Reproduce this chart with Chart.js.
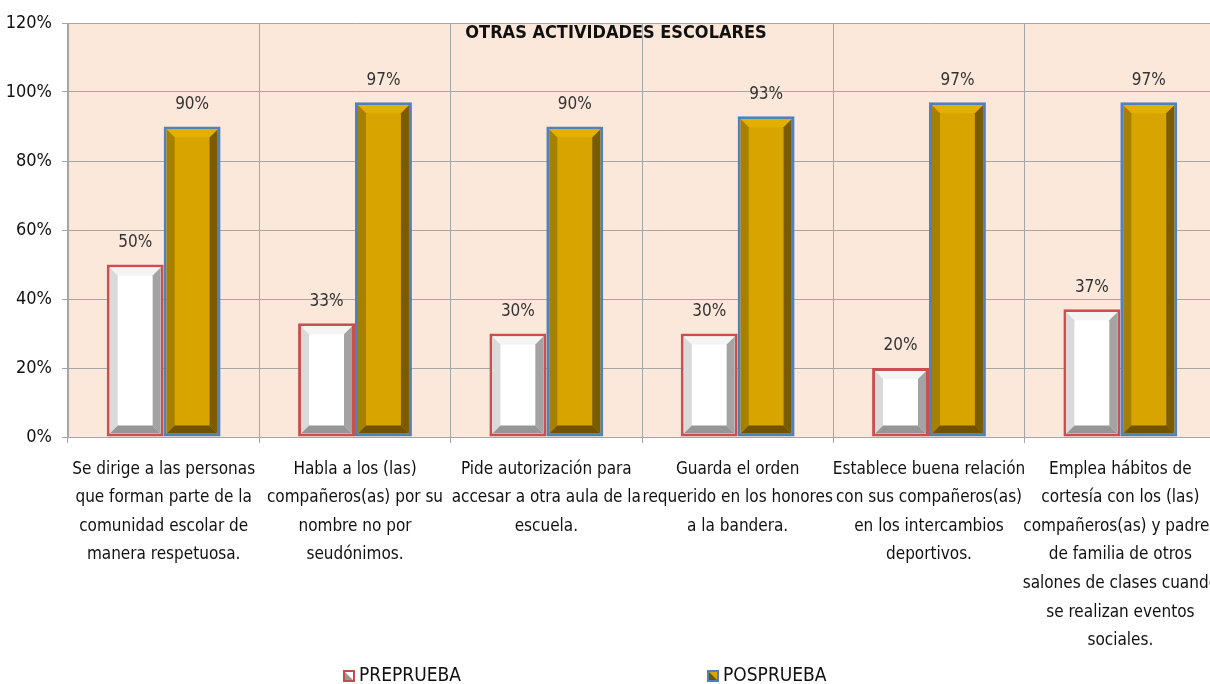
<!DOCTYPE html>
<html>
<head>
<meta charset="utf-8">
<script src="https://cdn.jsdelivr.net/npm/chart.js@4"></script>
<style>
  html, body { margin: 0; padding: 0; background: #fff; }
  #wrap { width: 1210px; height: 684px; overflow: hidden; }
</style>
</head>
<body>
<div id="wrap"><canvas id="myChart" width="1216" height="684"></canvas></div>
<script>
// 1. CHART DATA
const categories = [
    ["Se dirige a las personas", "que forman parte de la", "comunidad escolar de", "manera respetuosa."],
    ["Habla a los (las)", "compañeros(as) por su", "nombre no por", "seudónimos."],
    ["Pide autorización para", "accesar a otra aula de la", "escuela."],
    ["Guarda el orden", "requerido en los honores", "a la bandera."],
    ["Establece buena relación", "con sus compañeros(as)", "en los intercambios", "deportivos."],
    ["Emplea hábitos de", "cortesía con los (las)", "compañeros(as) y padres", "de familia de otros", "salones de clases cuando", "se realizan eventos", "sociales."]
];
const prePrueba = [50, 33, 30, 30, 20, 37];
const posPrueba = [90, 97, 90, 93, 97, 97];
const seriesNames = ["PREPRUEBA", "POSPRUEBA"];
const chartTitle = "OTRAS ACTIVIDADES ESCOLARES";

const FONT = "'Liberation Sans Narrow', 'DejaVu Sans Condensed', sans-serif";

// 3D bevel colours per dataset
const bevels = [
    { top: '#f4f4f4', left: '#dadada', right: '#a3a3a3', bottom: '#969696', border: '#c0504d' },
    { top: '#e3b000', left: '#a88000', right: '#7a5b00', bottom: '#6f5300', border: '#4f81bd' }
];

// 2. PLUGINS
// Peach plot background
const plotBackground = {
    id: 'plotBackground',
    beforeDraw(chart) {
        const { ctx, chartArea: a } = chart;
        ctx.save();
        ctx.fillStyle = '#fce8da';
        ctx.fillRect(a.left, a.top, a.right - a.left, a.bottom - a.top);
        ctx.restore();
    }
};

// Bevel faces over each bar, then value labels
const bars3d = {
    id: 'bars3d',
    afterDatasetsDraw(chart) {
        const ctx = chart.ctx;
        chart.data.datasets.forEach((ds, di) => {
            const c = bevels[di];
            chart.getDatasetMeta(di).data.forEach((bar, i) => {
                const bw = 3, d = 8;
                const l = bar.x - bar.width / 2 + bw;
                const r = bar.x + bar.width / 2 - bw;
                const t = bar.y + bw;
                const b = bar.base - bw;
                const face = (pts, col) => {
                    ctx.beginPath();
                    ctx.moveTo(pts[0][0], pts[0][1]);
                    pts.slice(1).forEach(p => ctx.lineTo(p[0], p[1]));
                    ctx.closePath();
                    ctx.fillStyle = col;
                    ctx.fill();
                };
                ctx.save();
                face([[l, t], [r, t], [r - d, t + d], [l + d, t + d]], c.top);
                face([[l, t], [l + d, t + d], [l + d, b - d], [l, b]], c.left);
                face([[r, t], [r - d, t + d], [r - d, b - d], [r, b]], c.right);
                face([[l, b], [l + d, b - d], [r - d, b - d], [r, b]], c.bottom);

                // value label
                ctx.fillStyle = '#333';
                ctx.font = '17px ' + FONT;
                ctx.textAlign = 'center';
                ctx.textBaseline = 'middle';
                ctx.fillText(ds.data[i] + '%', bar.x, bar.y - 22);
                ctx.restore();
            });
        });
    }
};

// Title inside the plot and the bottom legend
const titleLegend = {
    id: 'titleLegend',
    afterDraw(chart) {
        const { ctx, chartArea: a } = chart;
        ctx.save();
        ctx.fillStyle = '#111';
        ctx.font = 'bold 18px ' + FONT;
        ctx.textAlign = 'center';
        ctx.textBaseline = 'middle';
        ctx.fillText(chartTitle, a.left + 548, a.top + 10);

        // legend entries
        const xs = [343, 707];
        const y = 676;
        ctx.font = '19px ' + FONT;
        ctx.textAlign = 'left';
        chart.data.datasets.forEach((ds, di) => {
            const c = bevels[di];
            const x = xs[di], s = 12;
            ctx.fillStyle = c.border;
            ctx.fillRect(x, y - s / 2, s, s);
            ctx.fillStyle = di === 0 ? '#ffffff' : '#d8a400';
            ctx.fillRect(x + 2, y - s / 2 + 2, s - 4, s - 4);
            ctx.fillStyle = di === 0 ? '#999999' : '#6f5300';
            ctx.beginPath();
            ctx.moveTo(x + 2, y - s / 2 + 2);
            ctx.lineTo(x + s - 2, y + s / 2 - 2);
            ctx.lineTo(x + 2, y + s / 2 - 2);
            ctx.closePath();
            ctx.fill();
            ctx.fillStyle = '#111';
            ctx.fillText(ds.label, x + s + 4, y);
        });
        ctx.restore();
    }
};

// 3. CHART.JS INITIALIZATION
const ctx = document.getElementById('myChart').getContext('2d');

new Chart(ctx, {
    type: 'bar',
    data: {
        labels: categories,
        datasets: [
            {
                label: seriesNames[0],
                data: prePrueba,
                backgroundColor: '#ffffff',
                borderColor: '#c9504d',
                borderWidth: 3,
                borderSkipped: false
            },
            {
                label: seriesNames[1],
                data: posPrueba,
                backgroundColor: '#d7a400',
                borderColor: '#4f81bd',
                borderWidth: 3,
                borderSkipped: false
            }
        ]
    },
    options: {
        responsive: false,
        animation: false,
        layout: { padding: { top: 23, right: 0, left: 0, bottom: 0 } },
        datasets: {
            bar: { barPercentage: 1, categoryPercentage: 0.595 }
        },
        scales: {
            x: {
                grid: { color: '#a6a6a6', tickLength: 6, offset: true },
                border: { color: '#a6a6a6' },
                ticks: {
                    color: '#111',
                    font: { family: FONT, size: 17, lineHeight: 1.68 },
                    maxRotation: 0,
                    autoSkip: false,
                    padding: 12
                },
                afterFit(scale) {
                    scale.height = 684 - 437;
                    // the last label may run past the edge, as in the original
                    scale.paddingLeft = 0;
                    scale.paddingRight = 0;
                }
            },
            y: {
                min: 0,
                max: 120,
                grid: { color: '#a6a6a6', tickLength: 6 },
                border: { color: '#a6a6a6' },
                ticks: {
                    stepSize: 20,
                    color: '#111',
                    font: { family: FONT, size: 18 },
                    padding: 10,
                    callback: v => v + '%'
                },
                afterFit(scale) { scale.width = 68; }
            }
        },
        plugins: {
            legend: { display: false },
            tooltip: { enabled: false }
        }
    },
    plugins: [plotBackground, bars3d, titleLegend]
});
</script>
</body>
</html>
